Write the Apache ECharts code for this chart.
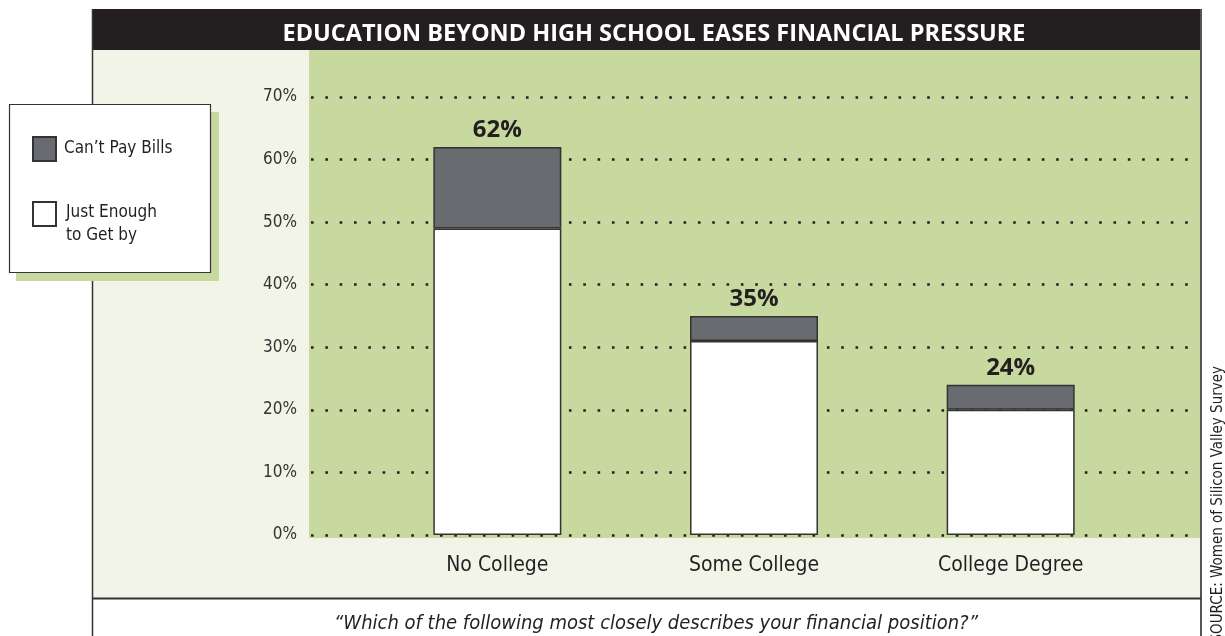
<!DOCTYPE html>
<html><head><meta charset="utf-8">
<script src="https://cdn.jsdelivr.net/npm/echarts@6/dist/echarts.min.js"></script>
<style>html,body{margin:0;padding:0;background:#fff}#c{width:1225px;height:636px}</style>
</head><body><div id="c"></div>
<script>
// ---- data ----
const categories = ['No College', 'Some College', 'College Degree'];
const justEnough = [49, 31, 20];
const cantPay = [13, 4, 4];
const totalLabels = ['62%', '35%', '24%'];
const yMin = 0, yMax = 70, yStep = 10;
const titleText = 'EDUCATION BEYOND HIGH SCHOOL EASES FINANCIAL PRESSURE';
const questionText = '“Which of the following most closely describes your financial position?”';
const sourceText = 'SOURCE: Women of Silicon Valley Survey';
const seriesNames = ['Just Enough to Get by', 'Can’t Pay Bills'];
const legendLines = ['Just Enough', 'to Get by'];

// ---- styles ----
const NARROW = "'Liberation Sans Narrow', 'DejaVu Sans Condensed', sans-serif";
const BOLD = "'Open Sans', 'Noto Sans', sans-serif";
const INK = '#231f20';
const GREEN = '#c8d9a0';
const BEIGE = '#f2f4e8';
const DARK = '#6a6b70';

const chart = echarts.init(document.getElementById('c'), null, {renderer: 'canvas'});
const GT = 97, GB = 636 - 535;

chart.setOption({
  animation: false,
  backgroundColor: '#ffffff',
  title: [
    {text: titleText, left: 649, top: 17, textAlign: 'center',
     textStyle: {color: '#ffffff', fontFamily: BOLD, fontWeight: 700, fontSize: 23.5}},
    {text: questionText, left: 651, top: 609, textAlign: 'center',
     textStyle: {color: INK, fontFamily: NARROW, fontStyle: 'italic', fontWeight: 400, fontSize: 20}}
  ],
  graphic: [
    {type: 'rect', z: -20, shape: {x: 93, y: 50, width: 1108, height: 548}, style: {fill: BEIGE}},
    {type: 'rect', z: -19, shape: {x: 309, y: 50, width: 892, height: 488}, style: {fill: GREEN}},
    {type: 'rect', z: -18, shape: {x: 93, y: 9, width: 1108, height: 41}, style: {fill: INK}},
    {type: 'line', z: -17, shape: {x1: 92.5, y1: 9, x2: 92.5, y2: 636}, style: {stroke: '#333', lineWidth: 1.5}},
    {type: 'line', z: -17, shape: {x1: 1201, y1: 9, x2: 1201, y2: 636}, style: {stroke: '#555', lineWidth: 2}},
    {type: 'line', z: -17, shape: {x1: 93, y1: 598.5, x2: 1201, y2: 598.5}, style: {stroke: '#333', lineWidth: 2}},
    {type: 'rect', z: 3, shape: {x: 16, y: 112, width: 203, height: 169}, style: {fill: GREEN}},
    {type: 'rect', z: 3, shape: {x: 9.5, y: 104.5, width: 201, height: 168}, style: {fill: '#ffffff', stroke: '#333', lineWidth: 1.2}},
    {type: 'text', z: 3, x: 1218, y: 366, rotation: Math.PI / 2,
     style: {text: sourceText, fill: INK, font: '15px ' + NARROW, align: 'right', verticalAlign: 'middle'}}
  ],
  legend: [
    {data: [seriesNames[1]], left: 32, top: 136, orient: 'vertical', selectedMode: false,
     padding: 0, icon: 'rect', itemWidth: 23, itemHeight: 24, z: 5,
     textStyle: {color: INK, fontFamily: NARROW, fontSize: 17, padding: [0, 0, 0, 3]}},
    {data: [seriesNames[0]], left: 32, top: 187, orient: 'vertical', selectedMode: false,
     padding: 0, icon: 'rect', itemWidth: 23, itemHeight: 24, z: 5,
     formatter: () => '{s| }\n{t|' + legendLines[0] + '}\n{t|' + legendLines[1] + '}',
     textStyle: {color: INK, fontFamily: NARROW, fontSize: 17, padding: [0, 0, 0, 5],
       rich: {s: {fontSize: 8, lineHeight: 21}, t: {fontSize: 17, lineHeight: 23, color: INK, fontFamily: NARROW}}}}
  ],
  grid: [
    {left: 311, right: 34, top: GT, bottom: GB},
    {left: 369, width: 770, top: GT, bottom: GB}
  ],
  xAxis: [
    {gridIndex: 0, type: 'value', min: 0, max: 1, show: false},
    {gridIndex: 1, type: 'category', data: categories,
     axisLine: {show: false}, axisTick: {show: false},
     axisLabel: {color: INK, fontFamily: NARROW, fontSize: 21, margin: 20}}
  ],
  yAxis: [
    {gridIndex: 0, type: 'value', min: yMin, max: yMax, interval: yStep,
     axisLine: {show: false}, axisTick: {show: false},
     axisLabel: {formatter: '{value}%', color: '#333', fontFamily: NARROW, fontSize: 17, margin: 14},
     splitLine: {show: true, lineStyle: {color: INK, width: 2.6, type: [2.6, 11.73]}}},
    {gridIndex: 1, type: 'value', min: yMin, max: yMax, interval: yStep, show: false,
     splitLine: {show: false}}
  ],
  series: [
    {name: seriesNames[0], type: 'bar', stack: 'a', xAxisIndex: 1, yAxisIndex: 1,
     data: justEnough, barWidth: 128,
     itemStyle: {color: '#ffffff', borderColor: '#333', borderWidth: 1.5}},
    {name: seriesNames[1], type: 'bar', stack: 'a', xAxisIndex: 1, yAxisIndex: 1,
     data: cantPay, barWidth: 128,
     itemStyle: {color: DARK, borderColor: '#333', borderWidth: 1.5},
     label: {show: true, position: 'top', distance: 5, color: INK,
       fontFamily: BOLD, fontWeight: 700, fontSize: 24,
       formatter: p => totalLabels[p.dataIndex]}}
  ]
});
</script></body></html>
